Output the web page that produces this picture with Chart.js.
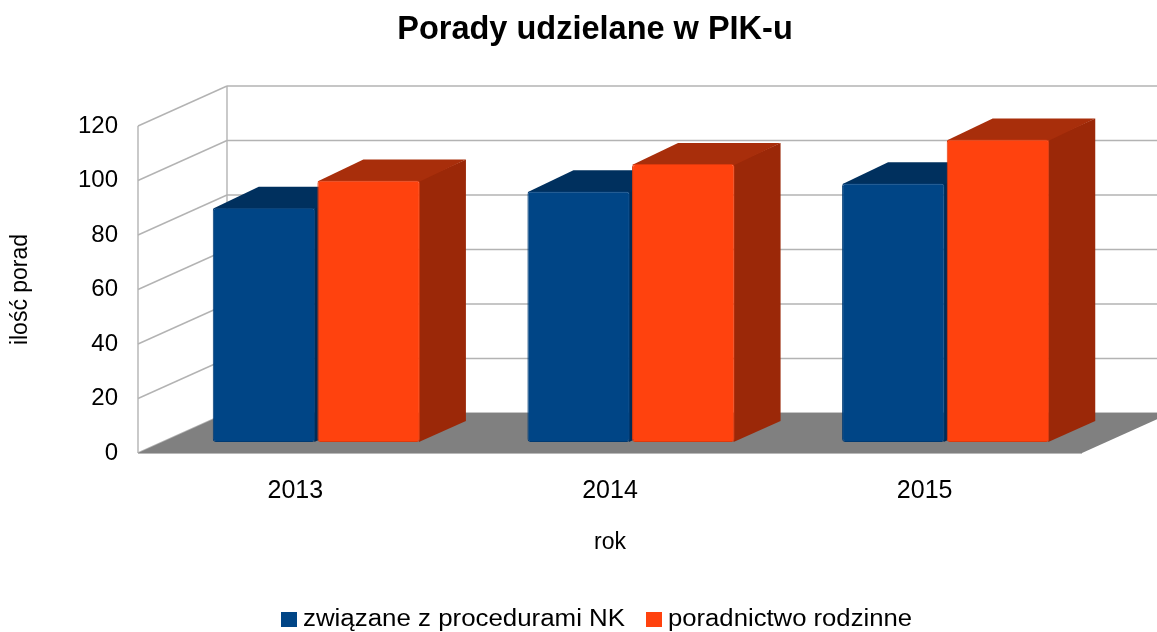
<!DOCTYPE html>
<html><head><meta charset="utf-8">
<script src="https://cdn.jsdelivr.net/npm/chart.js@4.4.1/dist/chart.umd.min.js"></script>
<style>html,body{margin:0;padding:0;background:#fff;}#wrap{width:1157px;height:632px;}</style>
</head><body><div id="wrap"><canvas id="c" width="1157" height="632"></canvas></div>
<script>
const categories = ['2013', '2014', '2015'];
const seriesNames = ['związane z procedurami NK', 'poradnictwo rodzinne'];
const seriesNK = [86, 92, 95];
const seriesRodzinne = [96, 102, 111];
const yTicks = [0, 20, 40, 60, 80, 100, 120];
const chartTitle = 'Porady udzielane w PIK-u';
const xTitle = 'rok';
const yTitle = 'ilość porad';

const FONT = "'Liberation Sans', Arial, sans-serif";
const WALL_DX = 89, WALL_DY = -40;      // full depth of the box
const BAR_DX = 21, BAR_DY = -11;        // bar front plane offset
const DEP_DX = 46, DEP_DY = -21;        // bar depth
const frontColors = ['#004586', '#ff420e'];
const edgeColors = ['#003a72', '#de390c'];
const topColors = ['#00305e', '#a82e0b'];
const sideColors = ['#002c57', '#9b2808'];

function poly(ctx, pts, fill, stroke) {
  ctx.beginPath();
  ctx.moveTo(pts[0][0], pts[0][1]);
  for (let i = 1; i < pts.length; i++) ctx.lineTo(pts[i][0], pts[i][1]);
  ctx.closePath();
  if (fill) { ctx.fillStyle = fill; ctx.fill(); }
  if (stroke) { ctx.strokeStyle = stroke; ctx.stroke(); }
}
function line(ctx, x1, y1, x2, y2) {
  ctx.beginPath(); ctx.moveTo(x1, y1); ctx.lineTo(x2, y2); ctx.stroke();
}
function fitText(ctx, text, x, y, width) {
  const mw = ctx.measureText(text).width;
  ctx.save();
  ctx.translate(x, y);
  ctx.scale(width / mw, 1);
  ctx.fillText(text, 0, 0);
  ctx.restore();
}

const threeD = {
  id: 'threeD',
  beforeDatasetsDraw(chart) {
    const { ctx, chartArea: a, scales: { y } } = chart;
    const L = a.left, R = a.right;
    const T = y.getPixelForValue(yTicks[yTicks.length - 1]);
    const B = y.getPixelForValue(0);
    ctx.save();
    ctx.strokeStyle = '#b3b3b3';
    ctx.lineWidth = 1.4;
    yTicks.forEach(v => {
      const py = y.getPixelForValue(v);
      line(ctx, L, py, L + WALL_DX, py + WALL_DY);
      line(ctx, L + WALL_DX, py + WALL_DY, R + WALL_DX, py + WALL_DY);
    });
    line(ctx, L, T, L, B);
    line(ctx, L + WALL_DX, T + WALL_DY, L + WALL_DX, B + WALL_DY);
    // floor
    poly(ctx, [[L, B], [R, B], [R + WALL_DX, B + WALL_DY], [L + WALL_DX, B + WALL_DY]], '#808080');
    ctx.strokeStyle = '#b8b8b8';
    ctx.lineWidth = 1.2;
    line(ctx, L, B + 0.5, R, B + 0.5);
    // bar side and top faces
    chart.data.datasets.forEach((ds, i) => {
      const meta = chart.getDatasetMeta(i);
      meta.data.forEach(bar => {
        const p = bar.getProps(['x', 'y', 'base', 'width'], true);
        const l = p.x - p.width / 2 + BAR_DX, r = p.x + p.width / 2 + BAR_DX;
        const t = p.y + BAR_DY, b = p.base + BAR_DY;
        poly(ctx, [[r - 1, t], [r + DEP_DX, t + DEP_DY], [r + DEP_DX, b + DEP_DY], [r - 1, b]], sideColors[i]);
        poly(ctx, [[l, t + 1], [l + DEP_DX, t + DEP_DY], [r + DEP_DX, t + DEP_DY], [r, t + 1]], topColors[i]);
      });
    });
    ctx.restore();
    ctx.save();
    ctx.translate(BAR_DX, BAR_DY);
  },
  afterDatasetsDraw(chart) {
    chart.ctx.restore();
  },
  afterDraw(chart) {
    const ctx = chart.ctx;
    ctx.save();
    // title
    ctx.font = 'bold 32.5px ' + FONT;
    ctx.textAlign = 'center';
    ctx.textBaseline = 'middle';
    ctx.fillStyle = '#000';
    ctx.fillText(chartTitle, 595, 30);
    // legend
    ctx.textAlign = 'left';
    const items = [
      { box: 281, text: 303, w: 322 },
      { box: 646, text: 668, w: 244 }
    ];
    ctx.font = '23px ' + FONT;
    seriesNames.forEach((name, i) => {
      const it = items[i];
      ctx.fillStyle = frontColors[i];
      ctx.fillRect(it.box, 612, 16, 15);
      ctx.fillStyle = '#000';
      fitText(ctx, name, it.text, 620, it.w);
    });
    ctx.restore();
  }
};

new Chart(document.getElementById('c'), {
  type: 'bar',
  data: {
    labels: categories,
    datasets: [
      { label: seriesNames[0], data: seriesNK, backgroundColor: frontColors[0], borderColor: edgeColors[0], borderWidth: 1, borderRadius: 3, borderSkipped: false, clip: false },
      { label: seriesNames[1], data: seriesRodzinne, backgroundColor: frontColors[1], borderColor: edgeColors[1], borderWidth: 1, borderRadius: 3, borderSkipped: false, clip: false }
    ]
  },
  options: {
    responsive: false,
    animation: false,
    devicePixelRatio: 1,
    layout: { padding: { top: 126, right: 75, bottom: 0, left: 0 } },
    datasets: { bar: { categoryPercentage: 0.665, barPercentage: 0.98 } },
    plugins: {
      legend: { display: false },
      tooltip: { enabled: false },
      title: { display: false }
    },
    scales: {
      x: {
        grid: { display: false, drawTicks: false },
        border: { display: false },
        ticks: { color: '#000', font: { family: FONT, size: 25 }, padding: 23.5 },
        title: { display: true, text: xTitle, color: '#000', font: { family: FONT, size: 23 }, padding: { top: 0, bottom: 75.2 } },
        afterFit(s) { s.height = 179; }
      },
      y: {
        min: 0, max: 120,
        grid: { display: false, drawTicks: false },
        border: { display: false },
        ticks: { stepSize: 20, color: '#000', font: { family: FONT, size: 24 }, padding: 20 },
        title: { display: true, text: yTitle, color: '#000', font: { family: FONT, size: 23 }, padding: { top: 6.5, bottom: 0 } },
        afterFit(s) { s.width = 138; }
      }
    }
  },
  plugins: [threeD]
});
</script>
</body></html>
